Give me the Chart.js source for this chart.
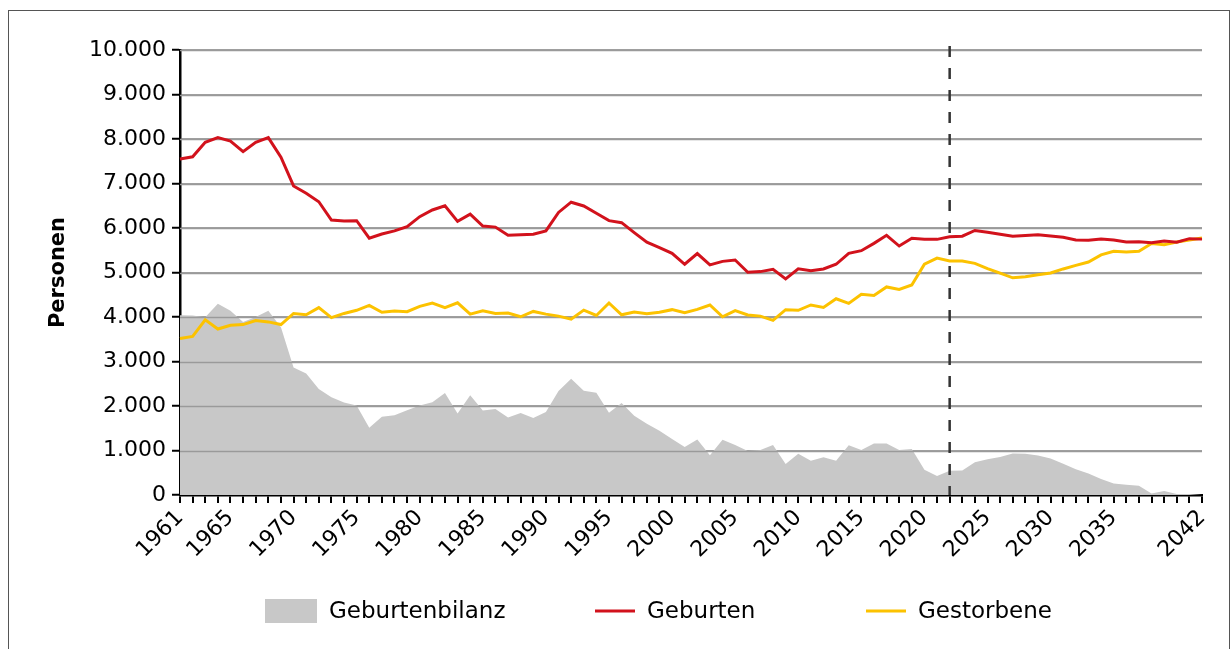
<!DOCTYPE html>
<html><head><meta charset="utf-8">
<script src="https://cdn.jsdelivr.net/npm/chart.js@4.4.1/dist/chart.umd.min.js"></script>
<style>
html,body{margin:0;padding:0;background:#fff;}
#wrap{position:relative;width:1231px;height:649px;overflow:hidden;}
#frame{position:absolute;left:8px;top:10px;width:1222px;height:700px;border:1.5px solid #555;box-sizing:border-box;pointer-events:none;}
canvas{position:absolute;left:0;top:0;}
</style></head><body>
<div id="wrap"><canvas id="c" width="1231" height="649"></canvas><div id="frame"></div></div>
<script>
const years = ['1961','1962','1963','1964','1965','1966','1967','1968','1969','1970',
 '1971','1972','1973','1974','1975','1976','1977','1978','1979','1980',
 '1981','1982','1983','1984','1985','1986','1987','1988','1989','1990',
 '1991','1992','1993','1994','1995','1996','1997','1998','1999','2000',
 '2001','2002','2003','2004','2005','2006','2007','2008','2009','2010',
 '2011','2012','2013','2014','2015','2016','2017','2018','2019','2020',
 '2021','2022','2023','2024','2025','2026','2027','2028','2029','2030',
 '2031','2032','2033','2034','2035','2036','2037','2038','2039','2040',
 '2041','2042'];
const shownYears = ['1961','1965','1970','1975','1980','1985','1990','1995','2000','2005','2010','2015','2020','2025','2030','2035','2042'];
const forecastYear = '2022';

const geburten = [7550,7600,7925,8030,7955,7715,7925,8030,7590,6945,
 6780,6590,6180,6155,6165,5770,5865,5935,6030,6255,
 6405,6500,6150,6310,6045,6020,5835,5850,5860,5935,
 6350,6580,6495,6330,6165,6120,5895,5680,5560,5430,
 5185,5425,5170,5250,5280,5005,5020,5070,4855,5085,
 5040,5080,5185,5430,5490,5655,5835,5595,5770,5745,
 5745,5805,5815,5945,5905,5860,5815,5830,5850,5820,
 5790,5730,5725,5755,5730,5685,5690,5670,5710,5680,
 5760,5750];

const gestorbene = [3515,3565,3935,3730,3815,3830,3920,3890,3830,4080,
 4050,4210,3985,4080,4150,4260,4105,4135,4120,4240,
 4315,4210,4320,4065,4140,4080,4090,4005,4125,4065,
 4020,3950,4155,4035,4315,4050,4110,4075,4105,4165,
 4095,4170,4270,4005,4145,4045,4020,3925,4165,4150,
 4270,4215,4410,4305,4510,4485,4675,4620,4720,5185,
 5325,5260,5260,5205,5085,4985,4880,4905,4950,4990,
 5080,5160,5235,5395,5475,5460,5475,5650,5625,5685,
 5730,5775];

const bilanz = [4040,4035,3995,4295,4140,3885,4000,4140,3770,2865,
 2730,2380,2195,2080,2010,1510,1760,1790,1905,2010,
 2085,2290,1830,2240,1900,1935,1740,1840,1730,1865,
 2335,2615,2340,2295,1850,2065,1780,1600,1445,1260,
 1080,1245,895,1240,1125,990,1010,1125,695,925,
 770,850,770,1120,1010,1155,1155,1010,1035,570,
 425,545,550,735,805,855,935,925,890,820,
 700,580,485,360,260,230,210,35,90,25,
 20,0];

const yTicks = {min:0, max:10000, step:1000};

const FONT = "'DejaVu Sans',sans-serif";
const fmt = v => String(v).replace(/\B(?=(\d{3})+(?!\d))/g, '.');

const gridOver = {
  id:'gridOver',
  afterDatasetDraw(chart, args){
    if (args.index !== 0) return;
    const {ctx, chartArea:a, scales:{y}} = chart;
    ctx.save();
    ctx.strokeStyle = '#9a9a9a';
    ctx.lineWidth = 1.5;
    y.ticks.forEach(t => {
      if (t.value === 0) return;
      const py = Math.round(y.getPixelForValue(t.value)) + 0.5;
      ctx.beginPath(); ctx.moveTo(a.left, py); ctx.lineTo(a.right, py); ctx.stroke();
    });
    ctx.restore();
  }
};

const dashed = {
  id:'dashed',
  afterDatasetsDraw(chart){
    const {ctx, chartArea:a, scales:{x}} = chart;
    const px = x.getPixelForValue(years.indexOf(forecastYear));
    ctx.save();
    ctx.strokeStyle = '#333';
    ctx.lineWidth = 2.5;
    ctx.setLineDash([11, 11]);
    ctx.beginPath(); ctx.moveTo(px, a.top - 4); ctx.lineTo(px, a.bottom); ctx.stroke();
    ctx.restore();
  }
};

const legendItems = [
  {ds:0, kind:'box', x:265, w:52},
  {ds:1, kind:'line', x:595, w:40},
  {ds:2, kind:'line', x:866, w:40}
];
const customLegend = {
  id:'customLegend',
  afterDraw(chart){
    const ctx = chart.ctx;
    const cy = 611;
    ctx.save();
    ctx.font = '23px ' + FONT;
    ctx.textBaseline = 'middle';
    ctx.fillStyle = '#000';
    legendItems.forEach(it => {
      const d = chart.data.datasets[it.ds];
      if (it.kind === 'box') {
        ctx.fillStyle = d.backgroundColor;
        ctx.fillRect(it.x, cy - 12, it.w, 24);
      } else {
        ctx.strokeStyle = d.borderColor;
        ctx.lineWidth = 3;
        ctx.beginPath(); ctx.moveTo(it.x, cy); ctx.lineTo(it.x + it.w, cy); ctx.stroke();
      }
      ctx.fillStyle = '#000';
      ctx.fillText(d.label, it.x + it.w + 12, cy + 1);
    });
    ctx.restore();
  }
};

new Chart(document.getElementById('c').getContext('2d'), {
  type:'line',
  data:{
    labels: years,
    datasets:[
      {label:'Geburtenbilanz', data:bilanz, fill:'origin', backgroundColor:'#c8c8c8', borderWidth:0, borderColor:'rgba(0,0,0,0)', pointRadius:0, order:3, tension:0},
      {label:'Geburten', data:geburten, borderColor:'#d2121c', backgroundColor:'#d2121c', borderWidth:3, pointRadius:0, fill:false, order:1, tension:0},
      {label:'Gestorbene', data:gestorbene, borderColor:'#fcc200', backgroundColor:'#fcc200', borderWidth:3, pointRadius:0, fill:false, order:2, tension:0}
    ]
  },
  options:{
    responsive:false,
    animation:false,
    layout:{padding:{left:46, top:50, right:29, bottom:0}},
    plugins:{legend:{display:false}, tooltip:{enabled:false}},
    scales:{
      x:{
        type:'category', offset:false,
        grid:{drawOnChartArea:false, drawTicks:true, tickLength:8, tickColor:'#000', tickWidth:2, lineWidth:2, color:'#000'},
        border:{color:'#000', width:2.5},
        ticks:{autoSkip:false, maxRotation:45, minRotation:45, color:'#000', font:{family:FONT, size:22}, padding:2,
          callback:function(v){ const l = this.getLabelForValue(v); return shownYears.includes(l) ? l : ''; }},
        afterFit:(s)=>{ s.height = 154; }
      },
      y:{
        min:yTicks.min, max:yTicks.max,
        ticks:{stepSize:yTicks.step, color:'#000', font:{family:FONT, size:22}, padding:6, callback:v=>fmt(v)},
        grid:{color:'#a0a0a0', lineWidth:1.5, tickColor:'#000', tickLength:8, tickWidth:2},
        border:{color:'#000', width:2.5},
        title:{display:true, text:'Personen', color:'#000', font:{family:FONT, size:21, weight:'bold'}, padding:{top:0, bottom:0}},
        afterFit:(s)=>{ s.width = 134; }
      }
    }
  },
  plugins:[gridOver, dashed, customLegend]
});
</script>
</body></html>
